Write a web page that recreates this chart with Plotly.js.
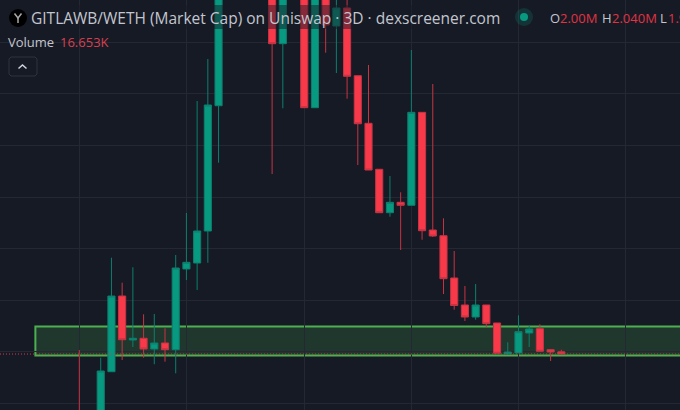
<!DOCTYPE html>
<html>
<head>
<meta charset="utf-8">
<script src="https://cdn.plot.ly/plotly-3.0.1.min.js"></script>
<style>
	html, body { margin: 0; padding: 0; background: #161a25; overflow: hidden; }
	#chart { width: 680px; height: 410px; }
</style>
</head>
<body>
<div id="chart"></div>
<script>
'use strict';

// candle number, market cap in millions (number 1 is not visible in the picture)
const candle = [0, 2, 3, 4, 5, 6, 7, 8, 9, 10, 11, 12, 13, 14, 15, 16, 17, 18, 19, 20, 21, 22, 23,
	24, 25, 26, 27, 28, 29, 30, 31, 32, 33, 34, 35, 36, 37, 38, 39, 40, 41, 42, 43, 44, 45];
const open = [0.833, 0.484, 1.614, 3.081, 2.229, 2.262, 2.054, 2.171, 2.041, 3.605, 3.721, 4.341, 6.769, 9.981, 12.694, 14.2, 13.0, 11.0, 7.971, 10.2, 9.4, 6.731, 9.3,
	8.314, 8.663, 7.351, 6.428, 5.537, 4.696, 4.897, 4.839, 6.641, 4.360, 4.250, 3.430, 2.907, 2.674, 2.907, 2.558, 1.957, 1.977, 2.364, 2.448, 2.041, 2.00];
const high = [2.035, 1.886, 3.824, 3.339, 3.638, 2.727, 2.733, 2.455, 3.876, 4.690, 6.860, 7.674, 10.368, 13.2, 14.8, 14.9, 13.6, 11.4, 10.8, 10.6, 9.8, 9.6, 9.5,
	9.2, 9.2, 7.351, 7.558, 5.537, 5.407, 5.091, 7.849, 6.641, 7.190, 4.587, 3.953, 3.275, 3.314, 2.907, 2.558, 2.184, 2.707, 2.500, 2.533, 2.054, 2.040];
const low = [0.291, 0.291, 1.614, 1.841, 2.093, 1.886, 1.758, 1.808, 1.583, 3.391, 3.198, 3.725, 5.665, 9.6, 12.2, 12.6, 10.4, 5.446, 6.719, 9.1, 6.731, 6.731, 7.797,
	7.403, 6.905, 5.620, 5.523, 4.696, 4.618, 3.973, 4.839, 4.172, 4.225, 3.120, 2.816, 2.597, 2.622, 2.475, 1.971, 1.957, 1.977, 2.093, 2.010, 1.822, 1.957];
const close = [0.484, 1.628, 3.081, 2.234, 2.262, 2.054, 2.171, 2.041, 3.624, 3.734, 4.341, 6.783, 9.981, 12.694, 14.2, 13.0, 11.0, 7.971, 10.2, 9.4, 6.731, 9.3, 8.333,
	8.663, 7.339, 6.420, 5.523, 4.696, 4.897, 4.839, 6.641, 4.347, 4.244, 3.417, 2.897, 2.674, 2.907, 2.545, 1.971, 1.996, 2.390, 2.442, 2.010, 1.996, 1.957];

const gridCandles = [0, 10, 21, 31, 41, 51];
const gridValues = [1, 2, 3, 4, 5, 6, 7, 8];
const zoneTop = 2.49, zoneBottom = 1.93, zoneStart = -4.1, zoneEnd = 60;
const lastPrice = 1.957;

const bg = '#161a25', up = '#089981', down = '#f7394a';
const W = 680, H = 410;

function px(x) { return x / W; }
function py(y) { return 1 - y / H; }

function label(x, y, text, color, size) {
	return {
		xref: 'paper', yref: 'paper', x: px(x), y: py(y), text: text, showarrow: false,
		xanchor: 'left', yanchor: 'middle', align: 'left',
		font: { family: '"Open Sans", sans-serif', size: size, color: color, weight: 500 }
	};
}

function pagePath(d, line, fill, width) {
	return { type: 'path', xref: 'paper', yref: 'paper', path: d, layer: 'above',
		fillcolor: fill || 'rgba(0,0,0,0)', line: { color: line, width: width || 1 } };
}

function rect(x0, y0, x1, y1, fill) {
	return { type: 'rect', xref: 'paper', yref: 'paper', layer: 'above',
		x0: px(x0), x1: px(x1), y0: py(y0), y1: py(y1), fillcolor: fill, line: { width: 0 } };
}

function circle(cx, cy, r, fill) {
	return { type: 'circle', xref: 'paper', yref: 'paper', layer: 'above',
		x0: px(cx - r), x1: px(cx + r), y0: py(cy + r), y1: py(cy - r), fillcolor: fill, line: { width: 0 } };
}

function line(points) {
	return points.map(function(p, i) { return (i ? 'L' : 'M') + px(p[0]) + ',' + py(p[1]); }).join(' ');
}

const trace = {
	type: 'candlestick',
	x: candle, open: open, high: high, low: low, close: close,
	whiskerwidth: 0,
	increasing: { line: { color: '#0c7f6d', width: 1 }, fillcolor: up },
	decreasing: { line: { color: '#c63444', width: 1 }, fillcolor: down },
	hoverinfo: 'skip'
};

const layout = {
	width: W, height: H,
	margin: { l: 0, r: 0, t: 0, b: 0 },
	paper_bgcolor: bg, plot_bgcolor: bg,
	showlegend: false,
	boxgap: 0.05,
	xaxis: {
		range: [-7.404, 56.08], rangeslider: { visible: false },
		tickvals: gridCandles, showticklabels: false, ticks: '',
		showgrid: true, gridcolor: '#242832', gridwidth: 1, zeroline: false
	},
	yaxis: {
		range: [0.872, 8.818],
		tickvals: gridValues, showticklabels: false, ticks: '',
		showgrid: true, gridcolor: '#242832', gridwidth: 1, zeroline: false
	},
	shapes: [
		{ type: 'rect', xref: 'x', yref: 'y', layer: 'below', x0: zoneStart, x1: zoneEnd, y0: zoneBottom, y1: zoneTop,
			fillcolor: 'rgba(76,175,80,0.2)', line: { color: '#4caf50', width: 2 } },
		{ type: 'line', xref: 'paper', yref: 'y', layer: 'above', x0: 0, x1: 1, y0: lastPrice, y1: lastPrice,
			line: { color: '#d8394a', width: 1, dash: '1px,2px' } },
		// legend backdrop dims the candles behind the title row
		rect(5, 5, 510, 29, 'rgba(22,26,37,0.5)'),
		circle(18, 18, 9, '#000000'),
		pagePath(line([[14.5, 13.5], [18, 18], [21.5, 13.5]]), '#a8a8a8', null, 1.5),
		pagePath(line([[18, 18], [18, 23]]), '#a8a8a8', null, 1.5),
		circle(524, 17, 9, 'rgba(8,153,129,0.2)'),
		circle(524, 17, 4, up),
		// collapse button
		pagePath(line([[11, 57], [35, 57], [37, 59], [37, 74], [35, 76], [11, 76], [9, 74], [9, 59], [11, 57]]) + ' Z', '#2f333f', null, 1),
		pagePath(line([[18.5, 68.5], [22.5, 65], [26.5, 68.5]]), '#d1d4dc', null, 1.5)
	],
	annotations: [
		label(28.5, 18, 'GITLAWB/WETH (Market Cap) on Uniswap · 3D · dexscreener.com', '#c3c6ce', 15.5),
		label(6, 42, 'Volume', '#c3c6ce', 13),
		label(58, 42, '16.653K', '#d8404f', 13),
		label(547.5, 18, 'O', '#c3c6ce', 13),
		label(558, 18, '2.00M', '#e03344', 13),
		label(599.5, 18, 'H', '#c3c6ce', 13),
		label(609.5, 18, '2.040M', '#e03344', 13),
		label(658, 18, 'L', '#c3c6ce', 13),
		label(666, 18, '1.9', '#e03344', 13)
	]
};

Plotly.newPlot('chart', [trace], layout, { staticPlot: true, displayModeBar: false });
</script>
</body>
</html>
